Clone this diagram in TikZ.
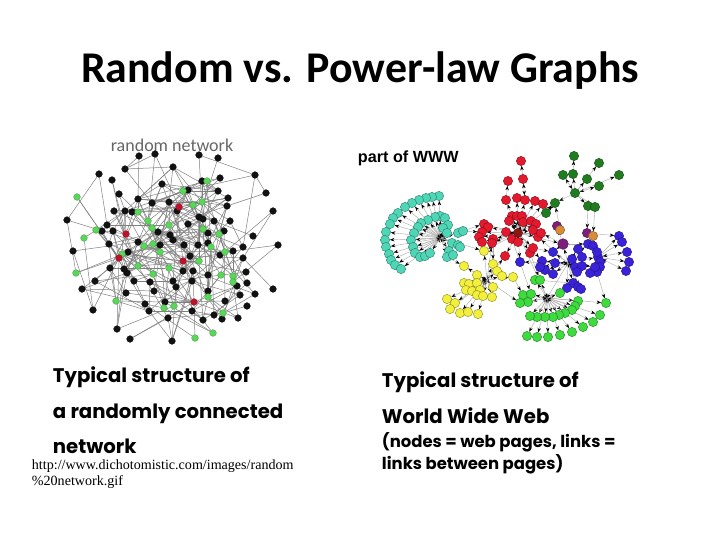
\documentclass[tikz,border=0pt]{standalone}
\usepackage{fontspec}
\setmainfont{Carlito}
\newfontfamily\comicfont{Poppins}
\newfontfamily\arialfont{Liberation Sans}
\newfontfamily\timesfont{Liberation Serif}
\usetikzlibrary{arrows.meta,backgrounds}

\definecolor{lk}{HTML}{111111}
\definecolor{lg}{HTML}{5AD65A}
\definecolor{lr}{HTML}{C0102A}
\definecolor{wteal}{HTML}{4ED6B6}
\definecolor{wred}{HTML}{E3192E}
\definecolor{wdred}{HTML}{8C1515}
\definecolor{wdgreen}{HTML}{1F7D1F}
\definecolor{wpurple}{HTML}{7B1F7B}
\definecolor{worange}{HTML}{D98B3A}
\definecolor{wblue}{HTML}{3A22D8}
\definecolor{wyellow}{HTML}{F2F03C}
\definecolor{wgreen}{HTML}{3DDB3D}

% random network: x/y/colour
\def\leftnodes{139/156/k,155/154/k,199/155/k,218/158/k,173/167/k,99/174/k,125/169/k,112/180/k,202/181/k,220/178/k,255/175/k,162/184/k,119/194/k,138/199/k,188/190/k,218/191/k,228/198/k,266/193/k,152/203/k,169/202/k,177/211/k,227/206/k,114/211/k,125/211/k,132/212/k,273/211/k,67/220/k,107/225/k,199/217/k,203/219/k,214/221/k,230/221/k,188/224/k,102/231/k,113/231/k,158/232/k,208/233/k,224/231/k,253/236/k,170/235/k,109/244/k,73/251/k,138/242/k,160/245/k,173/240/k,184/245/k,198/245/k,208/243/k,243/247/k,278/245/k,233/251/k,128/252/k,190/256/k,220/255/k,243/258/k,110/268/k,124/269/k,127/273/k,183/271/k,193/271/k,208/275/k,246/272/k,95/281/k,134/281/k,150/282/k,173/281/k,192/281/k,247/283/k,82/289/k,176/287/k,237/286/k,273/289/k,126/293/k,154/291/k,208/291/k,240/295/k,255/294/k,145/304/k,165/302/k,225/301/k,247/306/k,93/310/k,149/311/k,192/311/k,214/315/k,168/318/k,203/320/k,222/319/k,238/318/k,117/329/k,130/339/k,172/341/k,
207/181/g,183/191/g,77/197/g,193/205/g,202/202/g,138/212/g,148/221/g,169/225/g,96/230/g,152/228/g,203/229/g,84/238/g,219/234/g,144/246/g,153/244/g,160/252/g,211/247/g,225/252/g,122/254/g,199/261/g,138/266/g,169/268/g,76/273/g,153/274/g,221/275/g,233/276/g,233/282/g,208/297/g,116/301/g,164/308/g,174/306/g,223/313/g,213/333/g,195/338/g,
179/207/r,126/234/r,119/258/r,183/261/r,194/302/r}

% part of WWW: x/y/parent
\def\teallist{439/196/t0,432/197/t0,426/198/t0,419/200/t0,412/203/t0,405/207/t0,398/213/t0,393/218/t0,390/224/t0,386/232/t0,385/240/t0,386/247/t0,389/254/t0,391/260/t0,395/265/t0,401/269/t0,
440/216/t0,435/217/t0,428/220/t0,421/223/t0,418/227/t0,414/233/t0,411/240/t0,413/247/t0,415/253/t0,420/257/t0,425/256/t0,430/253/t0,445/218/t0,448/225/t0,443/228/t0,447/233/t0,452/243/t0,458/245/t0,449/251/t0,447/257/t0,453/255/t0,460/247/t0,458/233/t0,463/231/t0}
\def\redlist{521/161/r3,508/181/r4,523/179/r6,506/200/r9,517/198/r0,525/200/r0,535/201/r0,543/204/r0,512/216/r0,517/216/r0,522/216/r0,509/221/r0,523/222/r0,531/221/r0,536/224/r0,484/224/r0,488/227/r0,482/232/r0,506/232/r0,533/230/r0,479/237/r0,482/242/r0,493/239/r0,512/239/r0,538/237/r0,541/233/r0,492/243/r0,518/242/r0,505/256/r0,530/253/r0,533/248/r0}
\def\dgreenlist{574/156/d4,599/163/d0,563/175/d0,573/174/d0,587/179/d0,599/186/d0,619/175/d0,555/203/d0,546/213/d8,588/206/d0,595/207/d0}
\def\bluelist{619/236/b5,622/242/b5,627/252/b5,629/262/b5,598/257/b0,626/271/b5,588/244/b0,593/246/b5,578/249/b0,597/252/b5,600/262/b5,600/267/b5,597/272/b5,590/273/b5,595/267/b0,553/252/b0,542/261/b0,520/262/b0,555/263/b0,572/259/b0,582/257/b0,575/267/b0,582/266/b0,577/272/b0,545/270/b0,553/274/b0,540/267/b0,573/283/b0,567/288/b0,578/287/b0,581/289/b0}
\def\yellowlist{484/251/y0,464/266/y0,493/264/y0,497/271/y0,502/276/y0,477/275/y0,513/277/y0,464/283/y0,469/284/y0,477/283/y0,466/290/y0,472/291/y0,480/290/y0,493/287/y0,477/295/y0,483/296/y0,492/297/y0,447/299/y0,455/303/y0,450/309/y0,460/313/y0,468/312/y0,478/314/y0}
\def\greenlist{535/280/e0,540/280/e0,523/295/e0,531/294/e0,528/302/e0,520/303/e0,560/293/e0,578/301/e0,575/306/e0,572/310/e0,565/313/e0,559/315/e0,553/317/e0,545/317/e0,537/317/e0,530/316/e0,606/303/e0,600/315/e0,593/322/e0,583/327/e0,572/332/e0,560/335/e0,548/337/e0,537/337/e0,527/336/e0}

% links from parent to each node of a cluster
\newcommand\clusterlinks[2]{%
	\foreach \x/\y/\p [count=\i] in #1 {
		\pgfmathtruncatemacro\m{mod(\i,3)}
		\ifnum\m=0\relax
			\draw[wlink2] (\p) -- (#2\i);
		\else
			\draw[wlink] (\p) -- (#2\i);
		\fi
	}}

\begin{document}
\begin{tikzpicture}[x=0.025cm,y=-0.025cm,
	lnode/.style={circle,inner sep=0pt,minimum size=4.8pt,fill=#1,draw=#1!70!black,line width=0.2pt},
	wnode/.style={circle,inner sep=0pt,minimum size=6.6pt,fill=#1,draw=#1!60!black,line width=0.3pt},
	rlink/.style={draw=black!50,line width=0.35pt},
	wlink/.style={draw=gray!65,line width=0.3pt,-{Stealth[length=3.2pt,width=2.4pt,color=black]}},
	wlink2/.style={draw=gray!65,line width=0.3pt,{Stealth[length=3.2pt,width=2.4pt,color=black]}-{Stealth[length=3.2pt,width=2.4pt,color=black]}},
	capt/.style={anchor=base west,font=\comicfont\bfseries\fontsize{14}{17}\selectfont},
	captsmall/.style={anchor=base west,font=\comicfont\bfseries\fontsize{11.7}{14}\selectfont}]
	\useasboundingbox (0,0) rectangle (720,540);

	% title and labels
	\node[anchor=base,font=\bfseries\fontsize{31.2}{36}\selectfont] (title) at (360,82) {Random vs. Power-law Graphs};
	\node[anchor=base,text=black!60,font=\fontsize{12.8}{15}\selectfont] (rnlabel) at (172,151) {random network};
	\node[anchor=base west,font=\arialfont\bfseries\fontsize{11.5}{13}\selectfont] (wwwlabel) at (353,162) {part of WWW};

	\node[capt] (lcap1) at (48,382) {Typical structure of};
	\node[capt] (lcap2) at (48,418) {a randomly connected};
	\node[capt] (lcap3) at (48,453) {network};
	\node[anchor=base west,font=\timesfont\fontsize{10}{12}\selectfont] (url1) at (27,469) {http://www.dichotomistic.com/images/random};
	\node[anchor=base west,font=\timesfont\fontsize{10}{12}\selectfont] (url2) at (27,485) {\%20network.gif};

	\node[capt] (rcap1) at (377,387) {Typical structure of};
	\node[capt] (rcap2) at (377,423) {World Wide Web};
	\node[captsmall] (rcap3) at (377,447) {(nodes = web pages, links =};
	\node[captsmall] (rcap4) at (377,469) {links between pages)};

	% random network
	\foreach \x/\y/\c [count=\i] in \leftnodes
		\node[lnode=l\c] (n\i) at (\x,\y) {};

	% part of WWW
	\coordinate (t0) at (441,238);
	\coordinate (b0) at (568,263);
	\coordinate (y0) at (487,280);
	\coordinate (e0) at (547,298);
	\foreach \x/\y/\p [count=\i] in \teallist
		\node[wnode=wteal] (t\i) at (\x,\y) {};
	\foreach \x/\y/\p [count=\i] in \redlist
		\node[wnode=wred] (r\i) at (\x,\y) {};
	\node[wnode=wdred] (r0) at (518,233) {};
	\node[wnode=wdgreen] (d0) at (575,193) {};
	\foreach \x/\y/\p [count=\i] in \dgreenlist
		\node[wnode=wdgreen] (d\i) at (\x,\y) {};
	\node[wnode=wpurple] (p1) at (557,226) {};
	\node[wnode=worange] (p2) at (560,230) {};
	\node[wnode=wpurple] (p3) at (587,233) {};
	\node[wnode=worange] (p4) at (593,236) {};
	\node[wnode=wpurple,minimum size=7.6pt] (p5) at (563,244) {};
	\foreach \x/\y/\p [count=\i] in \bluelist
		\node[wnode=wblue] (b\i) at (\x,\y) {};
	\foreach \x/\y/\p [count=\i] in \yellowlist
		\node[wnode=wyellow] (y\i) at (\x,\y) {};
	\foreach \x/\y/\p [count=\i] in \greenlist
		\node[wnode=wgreen] (e\i) at (\x,\y) {};

	\begin{pgfonlayer}{background}
		\fill[white] (0,0) rectangle (720,540);
		% random links between close nodes, at least one per node
		\pgfmathsetseed{11}
		\foreach \x/\y/\c [count=\i] in \leftnodes {
			\gdef\gothit{0}\gdef\lastnb{1}
			\foreach \u/\v/\w [count=\j] in \leftnodes {
				\ifnum\j=\i\relax\else
					\pgfmathtruncatemacro\isnear{veclen(\x-\u,\y-\v)<75}
					\ifnum\isnear=1\relax
						\xdef\lastnb{\j}
						\pgfmathtruncatemacro\ispick{rnd<0.042}
						\ifnum\ispick=1\relax
							\draw[rlink] (n\i) -- (n\j);
							\gdef\gothit{1}
						\fi
					\fi
				\fi
			}
			\ifnum\gothit=0\relax \draw[rlink] (n\i) -- (n\lastnb);\fi
		}

		% cluster links
		\clusterlinks{\teallist}{t}
		\clusterlinks{\redlist}{r}
		\clusterlinks{\dgreenlist}{d}
		\clusterlinks{\bluelist}{b}
		\clusterlinks{\yellowlist}{y}
		\clusterlinks{\greenlist}{e}

		% links between clusters
		\foreach \a/\b in {t0/r16,t40/r18,t36/y2,t0/y1,r0/d8,d9/r8,d10/p3,d11/p4,p5/p1,p5/r26,p5/b7,p5/b16,r0/b18,r0/b17,r0/y1,y0/r29,y0/e6,y7/e3,r0/e0,r31/b16,b0/e0,b28/e1,b13/e17,p3/b1,p4/b8,r30/e2,b0/r25,r24/e4,y0/r27,r23/y3,r0/p5,b5/p4,b0/p5,e0/b29,p2/d8}
			\draw[wlink] (\a) -- (\b);
	\end{pgfonlayer}
\end{tikzpicture}
\end{document}
